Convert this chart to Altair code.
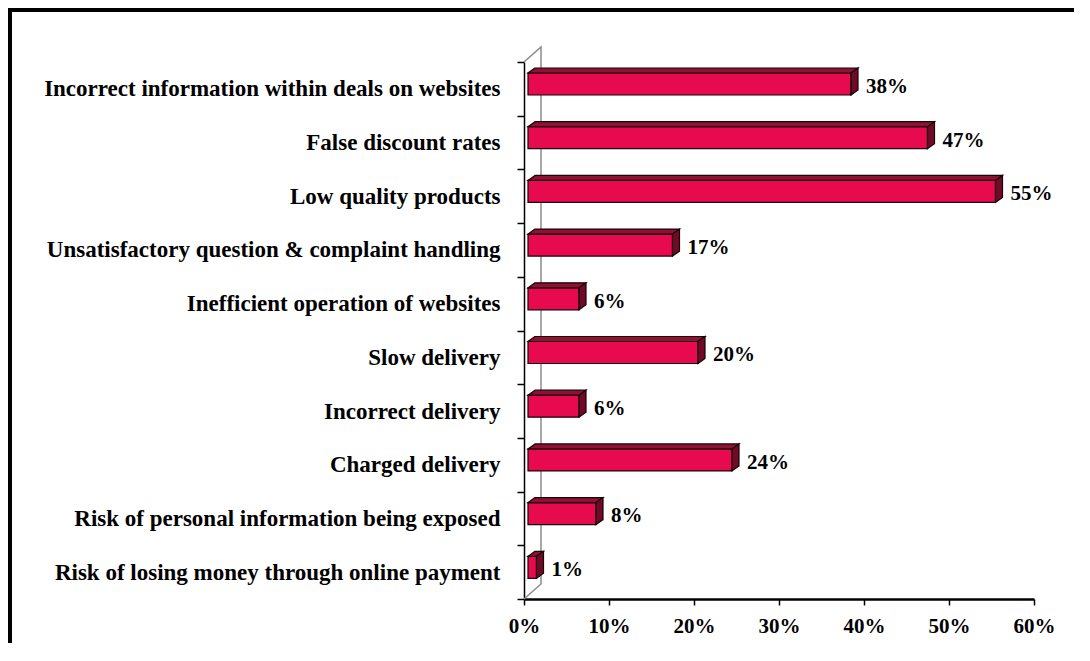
import altair as alt
import pandas as pd

categories = [
    "Incorrect information within deals on websites",
    "False discount rates",
    "Low quality products",
    "Unsatisfactory question & complaint handling",
    "Inefficient operation of websites",
    "Slow delivery",
    "Incorrect delivery",
    "Charged delivery",
    "Risk of personal information being exposed",
    "Risk of losing money through online payment",
]
values = [38, 47, 55, 17, 6, 20, 6, 24, 8, 1]
x_ticks = [0, 10, 20, 30, 40, 50, 60]

N = len(categories)
W, H = 510, 537
XMAX = 60
PX = XMAX / W          # data units per pixel (x)
BAND = H / N
PY = 1 / BAND          # band units per pixel (y)

GAP = 4                # bar front face shift from axis (px)
DX, DY = 7, 5          # bar depth (px)
FT, FB = 11, 33        # front face top/bottom within band (px)
WALL_X, WALL_Y = 17, 15

FONT = "Liberation Serif"
FRONT = "#E80A4E"
TOPC = "#8E1234"
SIDEC = "#700B27"
EDGE = "#1a0008"

rows = pd.DataFrame({"cat": categories, "value": values, "idx": list(range(N))})
faces = rows.merge(pd.DataFrame({"c": [0, 1]}), how="cross")
wall = pd.DataFrame({"k": [0, 1, 2, 3]})
one = pd.DataFrame({"a": [0]})

xscale = alt.Scale(domain=[0, XMAX], nice=False, zero=False)
xaxis = alt.Axis(values=x_ticks, labelExpr="datum.value + '%'", title=None, grid=False,
                 labelFlush=False,
                 labelFont=FONT, labelFontWeight="bold", labelFontSize=21, labelColor="black",
                 domainColor="black", domainWidth=2.5, tickColor="black", tickWidth=1.5,
                 tickSize=6, labelPadding=10)
yq = alt.Scale(domain=[0, N], reverse=True, nice=False, zero=False)

# axis carrier layer (band scale for category labels)
axis_layer = alt.Chart(rows).mark_bar(opacity=0).encode(
    x=alt.X("value:Q", scale=xscale, axis=xaxis),
    y=alt.Y("cat:N", sort=categories,
            scale=alt.Scale(type="band", paddingInner=0, paddingOuter=0),
            axis=alt.Axis(title=None, tickBand="extent", labelFont=FONT, labelFontWeight="bold",
                          labelFontSize=23, labelColor="black", labelLimit=700,
                          domainColor="black", domainWidth=1.5, tickColor="black",
                          tickWidth=1.5, tickSize=7, labelPadding=17)),
)

wall_layer = alt.Chart(wall).transform_calculate(
    wx=f"(datum.k == 1 || datum.k == 2) ? {WALL_X * PX} : 0",
    wy=f"datum.k == 0 ? 0 : (datum.k == 1 ? {-WALL_Y * PY} : (datum.k == 2 ? {N - WALL_Y * PY} : {N}))",
).mark_line(color="#8c8c8c", strokeWidth=1.5).encode(
    x=alt.X("wx:Q", scale=xscale, axis=xaxis),
    y=alt.Y("wy:Q", scale=yq, axis=None),
    order="k:Q",
)

front = alt.Chart(rows).transform_calculate(
    x0=f"{GAP * PX}",
    x1=f"datum.value + {GAP * PX}",
    y0=f"datum.idx + {FT * PY}",
    y1=f"datum.idx + {FB * PY}",
).mark_rect(color=FRONT, stroke=EDGE, strokeWidth=1.2).encode(
    x=alt.X("x0:Q", scale=xscale, axis=xaxis),
    x2="x1:Q",
    y=alt.Y("y0:Q", scale=yq, axis=None),
    y2="y1:Q",
)

top = alt.Chart(faces).transform_calculate(
    tx=f"{GAP * PX} + datum.c * {DX * PX}",
    tx2=f"datum.value + {GAP * PX} + datum.c * {DX * PX}",
    ty=f"datum.idx + ({FT} - datum.c * {DY}) * {PY}",
).mark_area(orient="horizontal", color=TOPC, stroke=EDGE, strokeWidth=1.2).encode(
    x=alt.X("tx:Q", scale=xscale, axis=xaxis),
    x2="tx2:Q",
    y=alt.Y("ty:Q", scale=yq, axis=None),
    detail="cat:N",
)

side = alt.Chart(faces).transform_calculate(
    sx=f"datum.value + {GAP * PX} + datum.c * {DX * PX}",
    sy=f"datum.idx + ({FT} - datum.c * {DY}) * {PY}",
    sy2=f"datum.idx + ({FB} - datum.c * {DY}) * {PY}",
).mark_area(orient="vertical", color=SIDEC, stroke=EDGE, strokeWidth=1.2).encode(
    x=alt.X("sx:Q", scale=xscale, axis=xaxis),
    y=alt.Y("sy:Q", scale=yq, axis=None),
    y2="sy2:Q",
    detail="cat:N",
)

labels = alt.Chart(rows).transform_calculate(
    ly="datum.idx + 0.5",
    txt="datum.value + '%'",
).mark_text(align="left", baseline="middle", dx=19, dy=-2, font=FONT, fontWeight="bold",
            fontSize=21, color="black").encode(
    x=alt.X("value:Q", scale=xscale, axis=xaxis),
    y=alt.Y("ly:Q", scale=yq, axis=None),
    text="txt:N",
)

frame_top = alt.Chart(one).mark_rule(color="black", strokeWidth=4).encode(
    x=alt.value(-516), x2=alt.value(W + 40), y=alt.value(-52))
frame_left = alt.Chart(one).mark_rule(color="black", strokeWidth=4).encode(
    x=alt.value(-514), y=alt.value(-54), y2=alt.value(H + 44))

chart = alt.layer(
    axis_layer, wall_layer, front, top, side, labels, frame_top, frame_left
).resolve_scale(y="independent").properties(
    width=W, height=H,
    padding={"left": 516, "top": 54, "right": 40, "bottom": 44},
    autosize=alt.AutoSizeParams(type="none"),
).configure_view(stroke=None)

chart.save("out.html", embed_options={"renderer": "svg", "actions": False})
